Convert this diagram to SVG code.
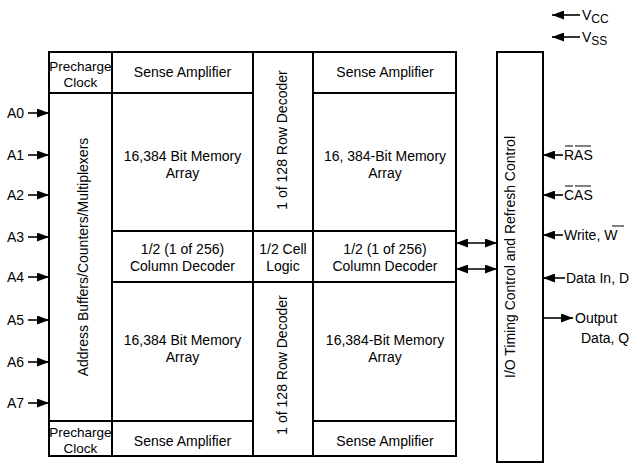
<svg xmlns="http://www.w3.org/2000/svg" width="632" height="471" viewBox="0 0 632 471">
<defs>
<marker id="ah" viewBox="0 0 12 9" refX="12" refY="4.5" markerWidth="12" markerHeight="9" markerUnits="userSpaceOnUse" orient="auto-start-reverse">
<path d="M0,0 L12,4.5 L0,9 Z" fill="#000"/>
</marker>
</defs>
<style>
text{font-family:"Liberation Sans",Arial,sans-serif;font-size:14px;fill:#000}
.c{text-anchor:middle}
.box{fill:#fff;stroke:#000;stroke-width:2}
.ar{stroke:#000;stroke-width:1.6;fill:none;marker-end:url(#ah)}
.ar2{stroke:#000;stroke-width:1.6;fill:none;marker-end:url(#ah);marker-start:url(#ah)}
.ob{stroke:#000;stroke-width:1}
</style>
<rect width="632" height="471" fill="#fff"/>

<g id="main-block">
<rect class="box" x="49" y="52" width="407" height="404"/>
</g>
<g id="precharge-top">
<rect class="box" x="49" y="52" width="63" height="41"/>
<text class="c" x="80.5" y="71" style="font-size:13.5px">Precharge</text>
<text class="c" x="80.5" y="87" style="font-size:13.5px">Clock</text>
</g>
<g id="address-buffers">
<rect class="box" x="49" y="93" width="63" height="328"/>
<text class="c" transform="translate(88,257) rotate(-90)">Address Buffers/Counters/Multiplexers</text>
</g>
<g id="precharge-bottom">
<rect class="box" x="49" y="421" width="63" height="35"/>
<text class="c" x="80.5" y="437" style="font-size:13.5px">Precharge</text>
<text class="c" x="80.5" y="453" style="font-size:13.5px">Clock</text>
</g>
<g id="sense-amp-tl">
<rect class="box" x="112" y="52" width="141" height="41"/>
<text class="c" x="182.5" y="77">Sense Amplifier</text>
</g>
<g id="memory-tl">
<rect class="box" x="112" y="93" width="141" height="138"/>
<text class="c" x="182.5" y="161">16,384 Bit Memory</text>
<text class="c" x="182.5" y="178">Array</text>
</g>
<g id="column-decoder-l">
<rect class="box" x="112" y="231" width="141" height="51"/>
<text class="c" x="182.5" y="254">1/2 (1 of 256)</text>
<text class="c" x="182.5" y="271">Column Decoder</text>
</g>
<g id="memory-bl">
<rect class="box" x="112" y="282" width="141" height="139"/>
<text class="c" x="182.5" y="345">16,384 Bit Memory</text>
<text class="c" x="182.5" y="362">Array</text>
</g>
<g id="sense-amp-bl">
<rect class="box" x="112" y="421" width="141" height="35"/>
<text class="c" x="182.5" y="446">Sense Amplifier</text>
</g>
<g id="row-decoder-top">
<rect class="box" x="253" y="52" width="60" height="179"/>
<text class="c" transform="translate(287,140) rotate(-90)">1 of 128 Row Decoder</text>
</g>
<g id="cell-logic">
<rect class="box" x="253" y="231" width="60" height="51"/>
<text class="c" x="283" y="254">1/2 Cell</text>
<text class="c" x="283" y="271">Logic</text>
</g>
<g id="row-decoder-bottom">
<rect class="box" x="253" y="282" width="60" height="174"/>
<text class="c" transform="translate(287,365) rotate(-90)">1 of 128 Row Decoder</text>
</g>
<g id="sense-amp-tr">
<rect class="box" x="313" y="52" width="143" height="41"/>
<text class="c" x="385" y="77">Sense Amplifier</text>
</g>
<g id="memory-tr">
<rect class="box" x="313" y="93" width="143" height="138"/>
<text class="c" x="385" y="161">16, 384-Bit Memory</text>
<text class="c" x="385" y="178">Array</text>
</g>
<g id="column-decoder-r">
<rect class="box" x="313" y="231" width="143" height="51"/>
<text class="c" x="385" y="254">1/2 (1 of 256)</text>
<text class="c" x="385" y="271">Column Decoder</text>
</g>
<g id="memory-br">
<rect class="box" x="313" y="282" width="143" height="139"/>
<text class="c" x="385" y="345">16,384-Bit Memory</text>
<text class="c" x="385" y="362">Array</text>
</g>
<g id="sense-amp-br">
<rect class="box" x="313" y="421" width="143" height="35"/>
<text class="c" x="385" y="446">Sense Amplifier</text>
</g>
<g id="io-timing">
<rect class="box" x="497" y="52" width="46" height="410"/>
<text class="c" transform="translate(515,257) rotate(-90)">I/O Timing Control and Refresh Control</text>
</g>

<g id="connectors">
<line class="ar" x1="28" y1="113" x2="49" y2="113"/>
<line class="ar" x1="28" y1="155" x2="49" y2="155"/>
<line class="ar" x1="28" y1="195" x2="49" y2="195"/>
<line class="ar" x1="28" y1="237" x2="49" y2="237"/>
<line class="ar" x1="28" y1="277" x2="49" y2="277"/>
<line class="ar" x1="28" y1="320" x2="49" y2="320"/>
<line class="ar" x1="28" y1="362" x2="49" y2="362"/>
<line class="ar" x1="28" y1="403" x2="49" y2="403"/>
<line class="ar2" x1="456" y1="243" x2="497" y2="243"/>
<line class="ar2" x1="456" y1="269" x2="497" y2="269"/>
<line class="ar" x1="580" y1="15" x2="552" y2="15"/>
<line class="ar" x1="580" y1="37" x2="552" y2="37"/>
<line class="ar" x1="563" y1="155" x2="543" y2="155"/>
<line class="ar" x1="563" y1="195" x2="543" y2="195"/>
<line class="ar" x1="563" y1="235" x2="543" y2="235"/>
<line class="ar" x1="565" y1="278" x2="543" y2="278"/>
<line class="ar" x1="543" y1="318" x2="573" y2="318"/>
</g>

<g id="labels">
<text x="7" y="118">A0</text>
<text x="7" y="160">A1</text>
<text x="7" y="200">A2</text>
<text x="7" y="242">A3</text>
<text x="7" y="282">A4</text>
<text x="7" y="325">A5</text>
<text x="7" y="367">A6</text>
<text x="7" y="408">A7</text>
<text x="582" y="20">V<tspan dy="3" style="font-size:12px">CC</tspan></text>
<text x="582" y="42">V<tspan dy="3" style="font-size:12px">SS</tspan></text>
<text x="564" y="160">RAS</text>
<text x="564" y="200">CAS</text>
<text x="564" y="240">Write, W</text>
<text x="566" y="283">Data In, D</text>
<text x="575" y="323">Output</text>
<text x="581" y="343">Data, Q</text>
<line class="ob" x1="565" y1="146" x2="573" y2="146"/>
<line class="ob" x1="575" y1="146" x2="591" y2="146"/>
<line class="ob" x1="565" y1="186" x2="573" y2="186"/>
<line class="ob" x1="575" y1="186" x2="591" y2="186"/>
<line class="ob" x1="612" y1="226" x2="624" y2="226"/>
</g>
</svg>
